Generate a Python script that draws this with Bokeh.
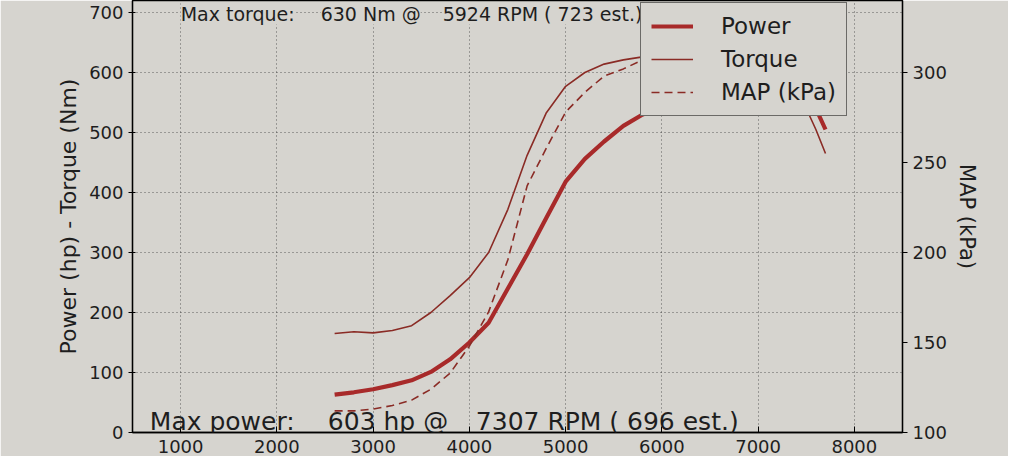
from bokeh.plotting import figure
from bokeh.models import Range1d, LinearAxis, SingleIntervalTicker, Label
from bokeh.embed import file_html
from bokeh.resources import INLINE

# ---- data read from the dyno sheet ----
rpm = [2600, 2800, 3000, 3200, 3400, 3600, 3800, 4000, 4200, 4400, 4600, 4800,
       5000, 5200, 5400, 5600, 5800, 6000, 6200, 6400, 6600, 6800, 7000, 7200,
       7300, 7400, 7500, 7600, 7700]
power_hp = [63, 67, 72, 79, 87, 101, 122, 150, 183, 240, 297, 358,
            418, 456, 485, 511, 530, 545, 560, 572, 582, 590, 597, 602,
            603, 592, 570, 540, 505]
torque_nm = [165, 168, 166, 170, 178, 200, 228, 258, 300, 372, 462, 533,
             577, 600, 614, 621, 626, 630, 629, 626, 622, 616, 608, 596,
             588, 570, 540, 505, 465]
map_kpa = [112, 112, 113, 115, 118, 124, 133, 148, 167, 196, 237, 258,
           278, 289, 298, 302, 307, 313, 316, 318, 318, 318, 318, 318,
           317, 317, 315, 310, 298]

series_names = ["Power", "Torque", "MAP (kPa)"]
# summary lines, split where the sheet has wide gaps
title_parts = ["Max torque:", "630 Nm @", "5924 RPM ( 723 est.)"]
bottom_parts = ["Max power:", "603 hp @", "7307 RPM ( 696 est.)"]
left_label = "Power (hp) - Torque (Nm)"
right_label = "MAP (kPa)"

PAPER = "#d6d4cf"
INK = "#1e1e1e"
FONT = "DejaVu Sans"
RED_THICK = "#a82a2a"
RED_THIN = "#8a2b25"

p = figure(width=1008, height=456, output_backend="svg", toolbar_location=None,
           x_range=Range1d(500, 8500), y_range=Range1d(0, 720),
           min_border_left=132, min_border_right=106, min_border_top=0,
           min_border_bottom=24,
           background_fill_color=PAPER, border_fill_color=PAPER)
p.title.text = ""
p.extra_y_ranges = {"map": Range1d(100, 340)}

# axes
p.xaxis.ticker = SingleIntervalTicker(interval=1000)
p.yaxis.ticker = SingleIntervalTicker(interval=100)
right = LinearAxis(y_range_name="map", axis_label=right_label,
                   ticker=SingleIntervalTicker(interval=50))
p.add_layout(right, "right")
p.yaxis[0].axis_label = left_label

for ax in [p.xaxis[0], p.yaxis[0], right]:
    ax.axis_line_color = "black"
    ax.axis_line_width = 1.3
    ax.major_tick_line_color = "black"
    ax.minor_tick_line_color = None
    ax.major_label_text_font = FONT
    ax.major_label_text_font_size = "18px"
    ax.major_label_text_color = INK
    ax.axis_label_text_font = FONT
    ax.axis_label_text_font_style = "normal"
    ax.axis_label_text_color = INK

p.xaxis.major_tick_in = 6
p.xaxis.major_tick_out = 0
p.xaxis.major_label_standoff = 3
p.yaxis[0].major_tick_in = 3
p.yaxis[0].major_tick_out = 4
p.yaxis[0].axis_label_text_font_size = "22px"
right.major_tick_in = 0
right.major_tick_out = 5
right.axis_label_text_font_size = "21px"

p.grid.grid_line_color = "#2a2a2a"
p.grid.grid_line_alpha = 0.7
p.grid.grid_line_dash = "1 3"
p.grid.grid_line_width = 1
p.outline_line_color = "black"
p.outline_line_width = 1.3

# curves (MAP sits on the twin axis and is drawn above the legend box)
p.line(rpm, power_hp, line_color=RED_THICK, line_width=4.2, legend_label=series_names[0])
p.line(rpm, torque_nm, line_color=RED_THIN, line_width=1.6, legend_label=series_names[1])
p.line(rpm, map_kpa, y_range_name="map", line_color=RED_THIN, line_width=1.6,
       line_dash="8 5", legend_label=series_names[2], level="overlay")

lg = p.legend[0]
lg.location = (508, 316)
lg.background_fill_color = PAPER
lg.background_fill_alpha = 1.0
lg.border_line_color = "black"
lg.border_line_width = 1.2
lg.label_text_font = FONT
lg.label_text_font_size = "23px"
lg.label_text_color = INK
lg.glyph_width = 42
lg.label_standoff = 28
lg.padding = 10
lg.spacing = 7
lg.margin = 0

title_offsets = [0, 140, 262]
for part, off in zip(title_parts, title_offsets):
    p.add_layout(Label(x=1000, y=720, x_offset=off, y_offset=-2, text=part,
                       text_baseline="top", text_font=FONT, text_font_size="19px",
                       text_color=INK, background_fill_color=PAPER))

bottom_offsets = [0, 178, 326]
for part, off in zip(bottom_parts, bottom_offsets):
    p.add_layout(Label(x=680, y=18, x_offset=off, text=part, text_baseline="alphabetic",
                       text_font=FONT, text_font_size="25px", text_color=INK))

open("out.html", "w").write(file_html(p, INLINE))
